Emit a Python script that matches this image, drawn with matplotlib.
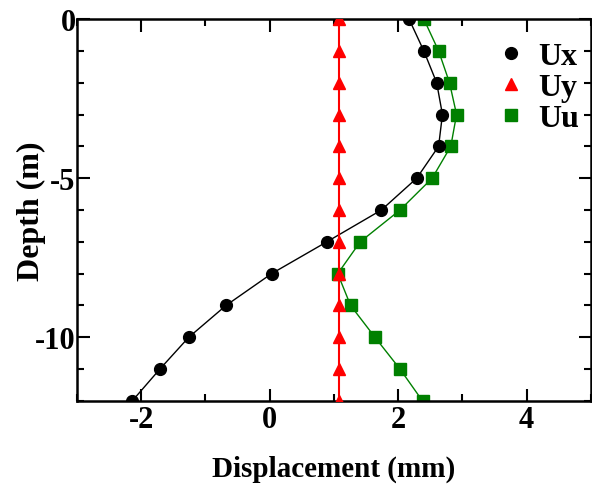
import matplotlib
matplotlib.use("Agg")
import matplotlib.pyplot as plt
from matplotlib.ticker import MultipleLocator

depth = [0, -1, -2, -3, -4, -5, -6, -7, -8, -9, -10, -11, -12]
ux = [2.17, 2.40, 2.60, 2.69, 2.63, 2.29, 1.74, 0.89, 0.03, -0.68, -1.26, -1.71, -2.14]
uy = [1.08] * 13
uu = [2.40, 2.63, 2.80, 2.91, 2.82, 2.53, 2.03, 1.41, 1.06, 1.26, 1.64, 2.03, 2.38]

plt.rcParams['font.family'] = ['Liberation Serif', 'DejaVu Serif']
plt.rcParams['font.weight'] = 'bold'
plt.rcParams['axes.unicode_minus'] = False

fig = plt.figure(figsize=(5.92, 4.89), dpi=100)
ax = fig.add_axes([0.130, 0.178, 0.868, 0.781])

ax.plot(ux, depth, color='black', lw=1.0, marker='o', ms=8.5, label='Ux', zorder=3)
ax.plot(uy, depth, color='#ff0000', lw=1.5, marker='^', ms=8.5, label='Uy', zorder=4)
ax.plot(uu, depth, color='#008000', lw=1.0, marker='s', ms=8, label='Uu', zorder=2)

ax.set_xlim(-3, 5)
ax.set_ylim(-12, 0)
ax.xaxis.set_major_locator(MultipleLocator(2))
ax.xaxis.set_minor_locator(MultipleLocator(1))
ax.yaxis.set_major_locator(MultipleLocator(5))
ax.yaxis.set_minor_locator(MultipleLocator(1))
ax.tick_params(which='both', direction='in', top=True, right=True, width=1.5)
ax.tick_params(which='major', length=9, labelsize=22, pad=3)
ax.tick_params(which='minor', length=5)
ax.tick_params(axis='y', pad=1)
for lab in ax.get_xticklabels() + ax.get_yticklabels():
    lab.set_fontweight('bold')
for s in ax.spines.values():
    s.set_linewidth(1.8)

ax.set_xlabel('Displacement (mm)', fontsize=21, fontweight='bold')
ax.set_ylabel('Depth (m)', fontsize=23, fontweight='bold')
ax.xaxis.set_label_coords(0.5, -0.14)
ax.yaxis.set_label_coords(-0.06, 0.5)

leg = ax.legend(loc='upper right', bbox_to_anchor=(1.02, 1.0), frameon=False,
                prop={'size': 23, 'weight': 'bold'}, handlelength=1.0,
                handletextpad=0.35, labelspacing=0.05, borderaxespad=0.3)
for h in leg.legend_handles:
    h.set_linestyle('none')

fig.savefig('out.png', dpi=100)
